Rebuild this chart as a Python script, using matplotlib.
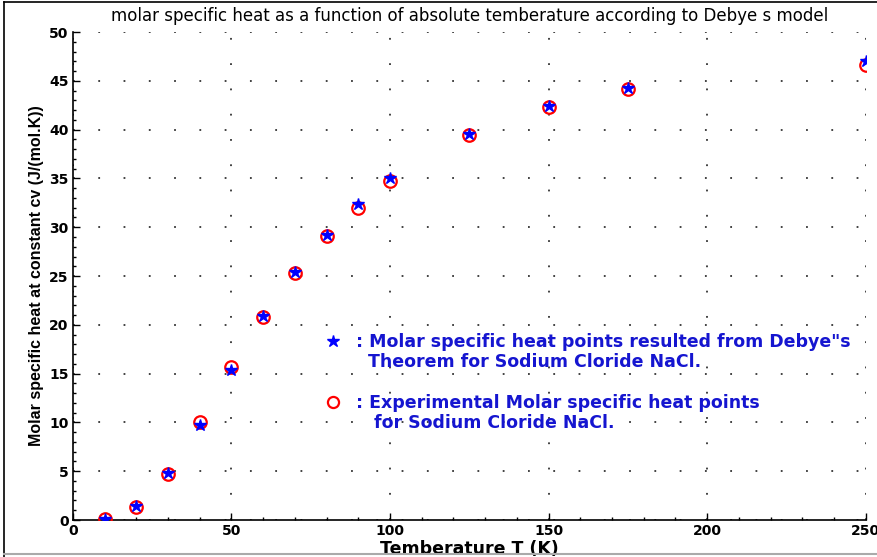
import matplotlib.pyplot as plt
from matplotlib.ticker import AutoMinorLocator
from matplotlib.lines import Line2D

plt.rcParams['font.family'] = ['Liberation Sans', 'DejaVu Sans']

# temperatures (K)
temps = [10, 20, 30, 40, 50, 60, 70, 80, 90, 100, 125, 150, 175, 250]
# Debye model values (J/(mol.K))
cv_debye = [0.1, 1.4, 4.8, 9.7, 15.4, 20.9, 25.4, 29.2, 32.4, 35.0, 39.6, 42.4, 44.3, 47.0]
# experimental values
cv_exp = [0.1, 1.3, 4.7, 10.0, 15.7, 20.8, 25.3, 29.1, 32.0, 34.7, 39.5, 42.3, 44.2, 46.6]

legend_lines = [
    ': Molar specific heat points resulted from Debye"s',
    '  Theorem for Sodium Cloride NaCl.',
    '',
    ': Experimental Molar specific heat points',
    '   for Sodium Cloride NaCl.',
]

fig = plt.figure(figsize=(8.78, 5.57), dpi=100)
ax = fig.add_axes([0.083, 0.0664, 0.903, 0.876])

ax.plot(temps, cv_exp, 'o', mfc='none', mec='red', mew=1.6, ms=9, zorder=3)
ax.plot(temps, cv_debye, '*', color='blue', ms=9, zorder=4)

ax.set_xlim(0, 250)
ax.set_ylim(0, 50)
ax.set_xticks(range(0, 251, 50))
ax.set_yticks(range(0, 51, 5))
ax.xaxis.set_minor_locator(AutoMinorLocator(5))
ax.yaxis.set_minor_locator(AutoMinorLocator(5))
ax.tick_params(which='both', direction='in', width=1)
ax.tick_params(which='major', length=5, labelsize=10, pad=3)
ax.tick_params(which='minor', length=2.5)
for lbl in ax.get_xticklabels() + ax.get_yticklabels():
    lbl.set_fontweight('bold')
    lbl.set_family('DejaVu Sans')
ax.spines['top'].set_visible(False)
ax.spines['right'].set_visible(False)
ax.spines['left'].set_linewidth(1.2)
ax.spines['bottom'].set_linewidth(1.2)

ax.grid(True, which='major', color='#333333', linewidth=1.3, linestyle=(0, (1, 13)))
ax.set_axisbelow(True)

ax.set_title('molar specific heat as a function of absolute temberature according to Debye s model',
             fontsize=12, family='DejaVu Sans', pad=8)
ax.set_xlabel('Temberature T (K)', fontsize=12.5, fontweight='bold',
              family='DejaVu Sans', labelpad=1)
ax.set_ylabel('Molar specific heat at constant cv (J/(mol.K))', fontsize=11.5,
              fontweight='bold', labelpad=4)

blank = Line2D([], [], ls='none', marker='none')
handles = [
    Line2D([], [], ls='none', marker='*', color='blue', ms=9),
    blank,
    blank,
    Line2D([], [], ls='none', marker='o', mfc='none', mec='red', mew=1.6, ms=8),
    blank,
]
leg = ax.legend(handles, legend_lines, loc='upper left', bbox_to_anchor=(0.319, 0.383),
                frameon=False, handlelength=0.8, handletextpad=0.95,
                borderpad=0, borderaxespad=0, labelspacing=0.13,
                prop={'weight': 'bold', 'size': 12.5, 'family': 'DejaVu Sans'})
for t in leg.get_texts():
    t.set_color('#1515d0')

# figure border
fig.add_artist(Line2D([0.004, 0.004], [0.0, 0.996], transform=fig.transFigure, color='black', lw=1.2))
fig.add_artist(Line2D([0.004, 1.0], [0.996, 0.996], transform=fig.transFigure, color='black', lw=1.2))
fig.add_artist(Line2D([0.004, 1.0], [0.006, 0.006], transform=fig.transFigure, color='#aaaaaa', lw=1.5))

fig.savefig('out.png', dpi=100)
